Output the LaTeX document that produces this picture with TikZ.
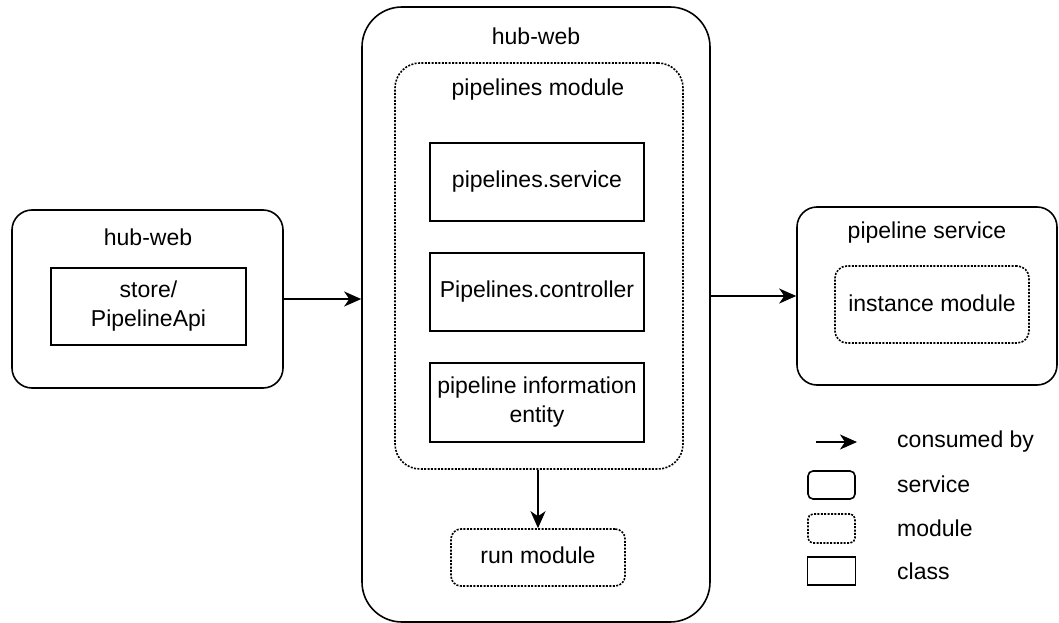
\documentclass[tikz,border=0pt]{standalone}
\usepackage{fontspec}
\setmainfont{Liberation Sans}
\usetikzlibrary{arrows.meta}
\begin{document}
\begin{tikzpicture}[x=1pt,y=-1pt,
  txt/.style={font=\fontsize{23}{29}\selectfont, align=center, inner sep=0pt},
  svcbox/.style={draw, line width=1.6pt, rounded corners=#1, inner sep=0pt},
  modbox/.style={draw, line width=1.6pt, dash pattern=on 2pt off 1.4pt, rounded corners=#1, inner sep=0pt},
  clsbox/.style={draw, line width=1.6pt, inner sep=0pt, txt},
  flow/.style={line width=1.6pt, -{Stealth[length=17pt,width=15pt,inset=5pt]}}
]
\useasboundingbox (0,0) rectangle (1059,623);

% client side service
\node[svcbox=20pt, minimum width=271pt, minimum height=178pt] (web) at (147.5,299) {};
\node[txt] (webT) at (148,237) {hub-web};
\node[clsbox, minimum width=195pt, minimum height=77pt] (store) at (148.5,306.5) {store/\\PipelineApi};

% central hub-web service
\node[svcbox=40pt, minimum width=348pt, minimum height=615pt] (hub) at (536,314.5) {};
\node[txt] (hubT) at (536,36) {hub-web};
\node[modbox=25pt, minimum width=288pt, minimum height=406pt] (pipe) at (539,266) {};
\node[txt] (pipeT) at (538,90) {pipelines module};
\node[clsbox, minimum width=214pt, minimum height=78pt] (svc) at (537,182) {pipelines.service};
\node[clsbox, minimum width=214pt, minimum height=78pt] (ctl) at (537,292) {Pipelines.controller};
\node[clsbox, minimum width=214pt, minimum height=79pt] (ent) at (537,402.5) {pipeline information\\entity};
\node[modbox=10pt, minimum width=174pt, minimum height=57pt] (run) at (538,557.5) {};
\node[txt] (runT) at (538,555) {run module};

% downstream pipeline service
\node[svcbox=20pt, minimum width=260pt, minimum height=178pt] (ps) at (927,296) {};
\node[txt] (psT) at (927,233) {pipeline service};
\node[modbox=12pt, minimum width=194pt, minimum height=77pt] (inst) at (932,304.5) {};
\node[txt] (instT) at (932,303) {instance module};

% dependencies
\draw[flow] (web.east) -- (hub.west |- web.east);
\draw[flow] (hub.east |- ps.west) -- (ps.west);
\draw[flow] (pipe.south -| run.north) -- (run.north);

% legend
\coordinate (lgA) at (816,442);
\coordinate (lgB) at (857,442);
\draw[flow] (lgA) -- (lgB);
\node[txt, anchor=west] (lg1) at (897,442) {consumed by};
\node[svcbox=5pt, minimum width=47pt, minimum height=28pt] (lgS) at (831.5,485) {};
\node[txt, anchor=west] (lg2) at (897,484) {service};
\node[modbox=5pt, minimum width=47pt, minimum height=29pt] (lgM) at (831.5,528.5) {};
\node[txt, anchor=west] (lg3) at (897,528) {module};
\node[clsbox, minimum width=48pt, minimum height=28pt] (lgC) at (831.5,571) {};
\node[txt, anchor=west] (lg4) at (897,571) {class};
\end{tikzpicture}
\end{document}
